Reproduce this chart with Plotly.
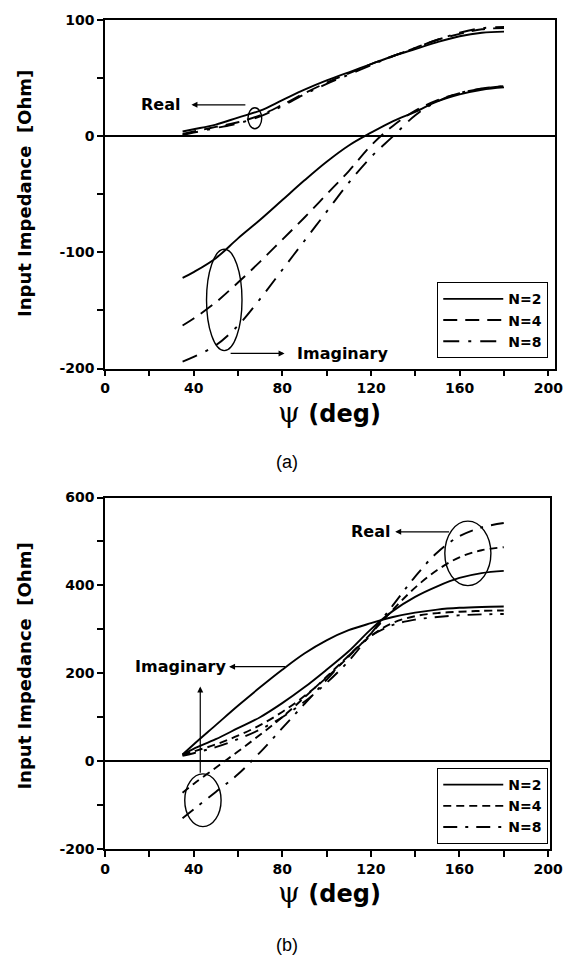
import plotly.graph_objects as go

# ---------------- data ----------------
psi = [35, 40, 50, 60, 70, 80, 90, 100, 110, 120, 130, 140, 150, 160, 170, 180]

# (a)
a_real_n2 = [4, 6, 10, 16, 22, 31, 40, 48, 55, 62, 69, 75, 81, 86, 89, 90]
a_real_n4 = [2, 4, 8, 12, 18, 27, 37, 46, 54, 62, 69, 76, 83, 88, 92, 93]
a_real_n8 = [1, 3, 7, 11, 17, 26, 36, 45, 53, 61, 69, 76, 83, 89, 93, 94]
a_imag_n2 = [-122, -117, -105, -88, -72, -55, -38, -22, -8, 3, 13, 21, 30, 36, 40, 42]
a_imag_n4 = [-163, -157, -143, -126, -108, -89, -70, -50, -30, -8, 9, 22, 31, 37, 41, 43]
a_imag_n8 = [-194, -190, -180, -163, -140, -115, -90, -65, -40, -18, 0, 18, 30, 37, 41, 43]

# (b)
b_real_n2 = [15, 28, 50, 75, 100, 132, 168, 208, 250, 300, 342, 374, 398, 417, 428, 433]
b_real_n4 = [14, 22, 38, 58, 82, 112, 148, 190, 238, 290, 345, 395, 435, 464, 480, 487]
b_real_n8 = [12, 18, 32, 50, 72, 100, 135, 178, 228, 290, 355, 420, 475, 512, 532, 542]
b_imag_n2 = [15, 38, 82, 126, 168, 208, 245, 275, 298, 314, 328, 338, 345, 349, 351, 352]
b_imag_n4 = [-72, -52, -15, 22, 60, 100, 145, 192, 240, 285, 315, 330, 337, 340, 342, 343]
b_imag_n8 = [-130, -110, -70, -30, 20, 75, 130, 185, 240, 285, 310, 322, 328, 332, 334, 335]

series_names = ["N=2", "N=4", "N=8"]

x_tickvals = [0, 20, 40, 60, 80, 100, 120, 140, 160, 180, 200]
x_ticktext = ["0", "", "40", "", "80", "", "120", "", "160", "", "200"]
ya_tickvals = [-200, -150, -100, -50, 0, 50, 100]
ya_ticktext = ["-200", "", "-100", "", "0", "", "100"]
yb_tickvals = [-200, -100, 0, 100, 200, 300, 400, 500, 600]
yb_ticktext = ["-200", "", "0", "", "200", "", "400", "", "600"]

# ---------------- styles ----------------
BFONT = "DejaVu Sans"
AFONT = "Arial, Liberation Sans, sans-serif"
dash_a = ["solid", "14px,8px", "16px,9px,3px,9px"]
dash_b = ["solid", "8px,5px", "14px,8px,3px,8px"]
LW = 1.9


def bold(labels):
    return ["<b>" + t + "</b>" if t else "" for t in labels]


fig = go.Figure()

a_real = [a_real_n2, a_real_n4, a_real_n8]
a_imag = [a_imag_n2, a_imag_n4, a_imag_n8]
b_real = [b_real_n2, b_real_n4, b_real_n8]
b_imag = [b_imag_n2, b_imag_n4, b_imag_n8]

for i, name in enumerate(series_names):
    fig.add_trace(go.Scatter(x=psi, y=a_real[i], mode="lines", name=name,
                             line=dict(color="black", width=LW, dash=dash_a[i], shape="spline"),
                             xaxis="x", yaxis="y", legend="legend", showlegend=True))
    fig.add_trace(go.Scatter(x=psi, y=a_imag[i], mode="lines", name=name,
                             line=dict(color="black", width=LW, dash=dash_a[i], shape="spline"),
                             xaxis="x", yaxis="y", legend="legend", showlegend=False))
for i, name in enumerate(series_names):
    fig.add_trace(go.Scatter(x=psi, y=b_real[i], mode="lines", name=name,
                             line=dict(color="black", width=LW, dash=dash_b[i], shape="spline"),
                             xaxis="x2", yaxis="y2", legend="legend2", showlegend=True))
    fig.add_trace(go.Scatter(x=psi, y=b_imag[i], mode="lines", name=name,
                             line=dict(color="black", width=LW, dash=dash_b[i], shape="spline"),
                             xaxis="x2", yaxis="y2", legend="legend2", showlegend=False))

tickfont = dict(family=BFONT, size=14, color="black", weight="bold")
common_x = dict(showline=True, linecolor="black", linewidth=1.5, mirror=True,
                ticks="outside", ticklen=6, tickwidth=1.5, tickcolor="black",
                tickvals=x_tickvals, ticktext=bold(x_ticktext), tickfont=tickfont,
                showgrid=False, zeroline=False)
common_y = dict(showline=True, linecolor="black", linewidth=1.5, mirror=True,
                ticks="outside", ticklen=6, tickwidth=1.5, tickcolor="black",
                tickfont=tickfont, showgrid=False, zeroline=True,
                zerolinecolor="black", zerolinewidth=1.5)

legfont = dict(family=BFONT, size=14, color="black", weight="bold")
fig.update_layout(
    width=580, height=960,
    margin=dict(l=105, r=18, t=14, b=111),
    paper_bgcolor="white", plot_bgcolor="white",
    xaxis=dict(domain=[0, 1], range=[0, 203], anchor="y", **common_x),
    yaxis=dict(domain=[0.5796, 1], range=[-200, 100], anchor="x",
               tickvals=ya_tickvals, ticktext=bold(ya_ticktext), **common_y),
    xaxis2=dict(domain=[0, 0.989], range=[0, 200.9], anchor="y2", **common_x),
    yaxis2=dict(domain=[0, 0.42395], range=[-200, 600], anchor="x2",
                tickvals=yb_tickvals, ticktext=bold(yb_ticktext), **common_y),
    legend=dict(x=0.985, y=0.592, xanchor="right", yanchor="bottom",
                bordercolor="black", borderwidth=1, bgcolor="white",
                font=legfont, tracegroupgap=0, itemwidth=60),
    legend2=dict(x=0.985, y=0.006, xanchor="right", yanchor="bottom",
                 bordercolor="black", borderwidth=1, bgcolor="white",
                 font=legfont, tracegroupgap=0, itemwidth=60),
)

lab_font = dict(family=BFONT, size=16, color="black", weight="bold")
ann = []
# y titles
for yc in [189, 665]:
    ann.append(dict(text="<b>Input Impedance  [Ohm]</b>", xref="paper", yref="paper",
                    x=(23 - 105) / 457, y=(849 - yc) / 835, textangle=-90,
                    showarrow=False, xanchor="center", yanchor="middle",
                    font=dict(family=BFONT, size=18, color="black", weight="bold")))
# x titles
for yc in [409, 893]:
    ann.append(dict(text='<span style="font-family:DejaVu Serif;font-weight:normal;font-size:28px">ψ</span> <b>(deg)</b>',
                    xref="paper", yref="paper", x=(333 - 105) / 457, y=(849 - yc) / 835,
                    showarrow=False, xanchor="center", yanchor="middle",
                    font=dict(family=BFONT, size=24, color="black", weight="bold")))
# panel labels
for yc, t in [(459, "(a)"), (946, "(b)")]:
    ann.append(dict(text=t, xref="paper", yref="paper", x=(290 - 105) / 457,
                    y=(849 - yc) / 835, showarrow=False, xanchor="center",
                    yanchor="middle", font=dict(family=AFONT, size=18, color="black")))

arrow = dict(showarrow=True, arrowhead=2, arrowsize=1, arrowwidth=1.2, arrowcolor="black")
# (a) Real
ann.append(dict(text="<b>Real</b>", x=25, y=27, xref="x", yref="y", showarrow=False, font=lab_font))
ann.append(dict(text="", x=39, y=27, ax=64, ay=27, xref="x", yref="y", axref="x", ayref="y", **arrow))
# (a) Imaginary
ann.append(dict(text="<b>Imaginary</b>", x=107, y=-187, xref="x", yref="y", showarrow=False, font=lab_font))
ann.append(dict(text="", x=81, y=-187, ax=56, ay=-187, xref="x", yref="y", axref="x", ayref="y", **arrow))
# (b) Imaginary
ann.append(dict(text="<b>Imaginary</b>", x=34, y=215, xref="x2", yref="y2", showarrow=False, font=lab_font))
ann.append(dict(text="", x=56, y=215, ax=82, ay=215, xref="x2", yref="y2", axref="x2", ayref="y2", **arrow))
ann.append(dict(text="", x=43, y=170, ax=43, ay=-30, xref="x2", yref="y2", axref="x2", ayref="y2", **arrow))
# (b) Real
ann.append(dict(text="<b>Real</b>", x=120, y=522, xref="x2", yref="y2", showarrow=False, font=lab_font))
ann.append(dict(text="", x=131, y=522, ax=156, ay=522, xref="x2", yref="y2", axref="x2", ayref="y2", **arrow))

fig.update_layout(annotations=ann)

ell = dict(type="circle", line=dict(color="black", width=1.4), fillcolor="rgba(0,0,0,0)")
shapes = [
    dict(xref="x", yref="y", x0=64.5, x1=70.7, y0=6.4, y1=24.4, **ell),
    dict(xref="x", yref="y", x0=45.8, x1=61.8, y0=-184.6, y1=-97.4, **ell),
    dict(xref="x2", yref="y2", x0=36, x1=52.4, y0=-149, y1=-29, **ell),
    dict(xref="x2", yref="y2", x0=153.4, x1=174.2, y0=399.6, y1=546.4, **ell),
]
fig.update_layout(shapes=shapes)

fig.write_html("out.html")
